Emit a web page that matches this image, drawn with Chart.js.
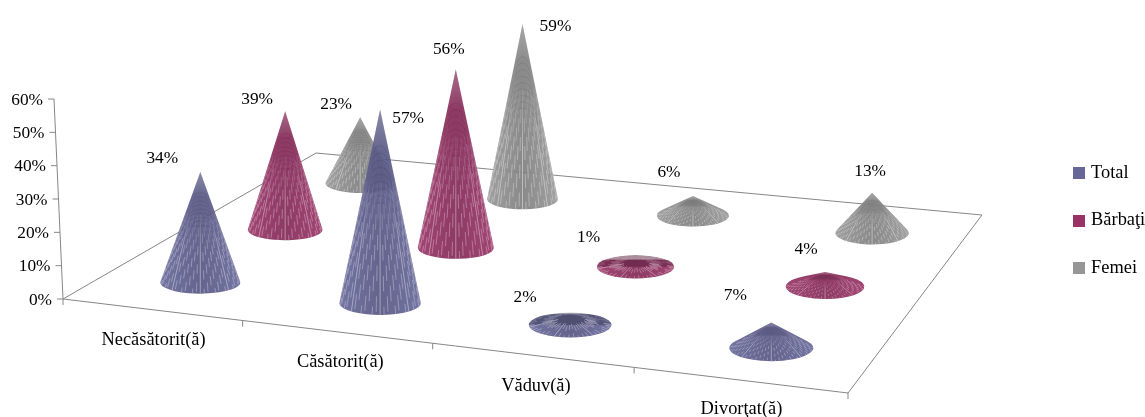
<!DOCTYPE html>
<html><head><meta charset="utf-8">
<style>html,body{margin:0;padding:0;background:#fff}canvas{display:block}</style>
<script src="https://cdn.jsdelivr.net/npm/chart.js@4/dist/chart.umd.js"></script>
</head><body><canvas id="c" width="1145" height="417"></canvas>
<script>
const categories = ['Necăsătorit(ă)', 'Căsătorit(ă)', 'Văduv(ă)', 'Divorţat(ă)'];
const seriesNames = ['Total', 'Bărbaţi', 'Femei'];
const total = [34, 57, 2, 7];
const barbati = [39, 56, 1, 4];
const femei = [23, 59, 6, 13];
const seriesColors = ['#666699', '#993366', '#969696'];
const yTicks = { min: 0, max: 60, step: 10 };

// layout of the 3-D floor (pixel corners of the plot's perspective floor)
const FL = [63, 299], FR = [848, 393], BR = [982, 215], BL = [316, 153];
const AXIS_TOP_X = 54;
const CONE_SHIFT = [2, 2];
const FONT = '17.33px "Liberation Serif"';
const CAT_FONT = '18.4px "Liberation Serif"';
// data-label offset from each cone tip, per series then category
const labelOffsets = [
  [[-38, -14], [28, 9], [-45, -19], [-36, -27]],
  [[-28, -12], [-7, -20], [-47, -24], [-19, -23]],
  [[-24, -13], [33, 2], [-24, -24], [-2, -21]]
];
const categoryLabelDrop = [[2, 31], [4, 30], [4, 31], [2, 29]];

const H = (() => {
  const [x0, y0] = FL, [x1, y1] = FR, [x2, y2] = BR, [x3, y3] = BL;
  const dx1 = x1 - x2, dx2 = x3 - x2, sx = x0 - x1 + x2 - x3;
  const dy1 = y1 - y2, dy2 = y3 - y2, sy = y0 - y1 + y2 - y3;
  const den = dx1 * dy2 - dx2 * dy1;
  const g = (sx * dy2 - dx2 * sy) / den, h = (dx1 * sy - sx * dy1) / den;
  return { a: x1 - x0 + g * x1, b: x3 - x0 + h * x3, c: x0,
           d: y1 - y0 + g * y1, e: y3 - y0 + h * y3, f: y0, g, h };
})();
function floorPoint(u, v) {
  const w = H.g * u + H.h * v + 1;
  return [(H.a * u + H.b * v + H.c) / w, (H.d * u + H.e * v + H.f) / w];
}
function rgb(hex) { return [1, 3, 5].map(i => parseInt(hex.substr(i, 2), 16)); }
function mix(c, t, k) { return c.map((v, i) => Math.round(v + (t[i] - v) * k)); }
function css(c, a) { return `rgba(${c[0]},${c[1]},${c[2]},${a})`; }

function coneGeom(chart, ds, i) {
  const xs = chart.scales.x, ys = chart.scales.y;
  const u = (xs.getPixelForValue(i) - xs.left) / xs.width;
  const v = (ds + 0.5) / chart.data.datasets.length;
  const p = floorPoint(u, v);
  const cx = p[0] + CONE_SHIFT[0], cy = p[1] + CONE_SHIFT[1];
  const value = chart.data.datasets[ds].data[i];
  const tilt = Math.min(1.01, 0.9 + 0.48 * u);
  const heightPx = (ys.getPixelForValue(0) - ys.getPixelForValue(value)) * (1.03 - 0.19 * v) * tilt + CONE_SHIFT[1];
  const rx = 40 + 2.7 * (u - 0.125) - 8 * (v - 1 / 6);
  const ry = rx * (0.27 + 0.05 * u);
  return { cx, cy, rx, ry, h: heightPx, ax: cx, ay: cy - heightPx, u, v };
}

function drawCone(ctx, g, hex) {
  const base = rgb(hex), dark = mix(base, [0, 0, 0], 0.14), lite = mix(base, [255, 255, 255], 0.02);
  const { cx, cy, rx, ry, h, ax, ay } = g;
  const pointy = h > ry + 0.5;
  ctx.save();
  ctx.beginPath();
  if (pointy) {
    const sn = ry / h, cs = Math.sqrt(1 - sn * sn);
    ctx.moveTo(ax, ay);
    ctx.lineTo(cx + rx * cs, cy - ry * sn);
    ctx.ellipse(cx, cy, rx, ry, 0, -Math.asin(sn), Math.PI + Math.asin(sn));
    ctx.closePath();
  } else {
    ctx.ellipse(cx, cy, rx, ry, 0, 0, Math.PI * 2);
  }
  ctx.clip();
  const gr = ctx.createLinearGradient(cx - rx, 0, cx + rx, 0);
  gr.addColorStop(0, css(lite, 0.93));
  gr.addColorStop(0.5, css(dark, 0.93));
  gr.addColorStop(1, css(lite, 0.93));
  ctx.fillStyle = gr;
  ctx.fillRect(cx - rx - 2, ay - 2, rx * 2 + 4, cy + ry - ay + 4);
  if (pointy) {
    const vg = ctx.createLinearGradient(0, ay, 0, ay + h * 0.22);
    vg.addColorStop(0, 'rgba(255,255,255,0.25)');
    vg.addColorStop(1, 'rgba(255,255,255,0)');
    ctx.fillStyle = vg;
    ctx.fillRect(cx - rx, ay, rx * 2, h * 0.22);
    // arched dark moiré bands below the tip
    ctx.lineWidth = 1.1;
    ctx.strokeStyle = css(mix(base, [0, 0, 0], 0.55), 0.13);
    for (let s = 0.18; s < 0.55; s += 0.045) {
      ctx.beginPath();
      ctx.ellipse(ax + (cx - ax) * s, ay + (cy - ay) * (s + 0.04), rx * s * 0.8, (cy - ay) * s * 0.18, 0, Math.PI, Math.PI * 2);
      ctx.stroke();
    }
  } else {
    // shallow disc: shaded back half
    ctx.fillStyle = css(mix(base, [0, 0, 0], 0.45), 0.5);
    ctx.beginPath();
    ctx.ellipse(cx, cy, rx, ry, 0, Math.PI, Math.PI * 2);
    ctx.fill();
  }
  // light fluted slits, tip to base; they fade out towards the tip
  const n = 32, span = pointy ? Math.PI : Math.PI * 2, count = pointy ? n : Math.round(n * 1.6);
  const light = mix(base, [255, 255, 255], 0.6);
  ctx.lineWidth = 0.8;
  for (let k = 0; k <= count; k++) {
    const th = span * k / count;
    const bx = cx + rx * Math.cos(th), by = cy + ry * Math.sin(th);
    const central = k % 8 === 0 && k > 0 && k < count;
    const back = !pointy && Math.sin(th) < 0;
    const peak = back ? 0.3 : (central ? 0.85 : 0.65);
    const start = central ? 0.3 : 0.36;
    const seg = pointy ? 0.075 : 0.25;
    const gap = central ? 0 : (pointy ? 0.075 : 0.2);
    const offset = (k % 3) * 0.05;
    for (let s = start + offset; s < 1; s += seg + gap) {
      const e = Math.min(1, s + seg);
      const fade = pointy ? Math.min(1, Math.max(0.15, (s - 0.25) / 0.4)) : 1;
      ctx.strokeStyle = css(light, peak * fade);
      ctx.beginPath();
      ctx.moveTo(ax + (bx - ax) * s, ay + (by - ay) * s);
      ctx.lineTo(ax + (bx - ax) * e, ay + (by - ay) * e);
      ctx.stroke();
    }
  }
  ctx.restore();
}

class ConeController extends Chart.BarController {
  draw() {
    const chart = this.chart, ctx = chart.ctx, ds = this.index;
    const color = chart.data.datasets[ds].backgroundColor;
    const geoms = chart.data.datasets[ds].data.map((_, i) => coneGeom(chart, ds, i));
    geoms.sort((a, b) => a.cy - b.cy).forEach(g => drawCone(ctx, g, color));
  }
}
ConeController.id = 'cone';
ConeController.defaults = Chart.BarController.defaults;
ConeController.overrides = Chart.BarController.overrides;
Chart.register(ConeController);

function legendSwatch(hex) {
  const c = document.createElement('canvas');
  c.width = 12; c.height = 12;
  const x = c.getContext('2d');
  x.fillStyle = hex; x.fillRect(0, 0, 12, 12);
  return c;
}

const floorPlugin = {
  id: 'floor3d',
  afterLayout(chart) {
    const l = chart.legend;
    const dy = 220.5 - (l.top + l.bottom) / 2;
    l.top += dy; l.bottom += dy;
    const w = l.right - l.left;
    l.left = 1046; l.right = l.left + w;
  },
  beforeDatasetsDraw(chart) {
    const ctx = chart.ctx, ys = chart.scales.y;
    ctx.save();
    ctx.strokeStyle = '#868686';
    ctx.lineWidth = 1;
    ctx.beginPath();
    ctx.moveTo(FL[0], FL[1]); ctx.lineTo(FR[0], FR[1]); ctx.lineTo(BR[0], BR[1]);
    ctx.lineTo(BL[0], BL[1]); ctx.closePath();
    ctx.stroke();
    const y0 = ys.getPixelForValue(yTicks.min), y1 = ys.getPixelForValue(yTicks.max);
    const axisX = y => FL[0] + (AXIS_TOP_X - FL[0]) * (y0 - y) / (y0 - y1);
    ctx.beginPath();
    ctx.moveTo(FL[0], y0); ctx.lineTo(AXIS_TOP_X, y1);
    ys.ticks.forEach(t => {
      const y = ys.getPixelForValue(t.value);
      ctx.moveTo(axisX(y), y); ctx.lineTo(axisX(y) - 6, y);
    });
    for (let k = 0; k <= categories.length; k++) {
      const p = floorPoint(k / categories.length, 0);
      ctx.moveTo(p[0], p[1]); ctx.lineTo(p[0], p[1] + 6);
    }
    ctx.stroke();
    ctx.fillStyle = '#000';
    ctx.font = FONT;
    ctx.textAlign = 'right'; ctx.textBaseline = 'middle';
    ys.ticks.forEach(t => {
      const y = ys.getPixelForValue(t.value);
      ctx.fillText(t.value + '%', axisX(y) - 11, y + 1);
    });
    ctx.textAlign = 'center';
    ctx.font = CAT_FONT;
    const xs = chart.scales.x;
    xs.getLabels().forEach((lab, i) => {
      const p = floorPoint((xs.getPixelForValue(i) - xs.left) / xs.width, 0);
      ctx.fillText(lab, p[0] + categoryLabelDrop[i][0], p[1] + categoryLabelDrop[i][1]);
    });
    ctx.restore();
  },
  afterDatasetsDraw(chart) {
    const ctx = chart.ctx;
    ctx.save();
    ctx.fillStyle = '#000';
    ctx.font = FONT;
    ctx.textAlign = 'center'; ctx.textBaseline = 'middle';
    chart.data.datasets.forEach((d, ds) => d.data.forEach((val, i) => {
      const g = coneGeom(chart, ds, i), o = labelOffsets[ds][i];
      ctx.fillText(val + '%', g.ax + o[0], g.ay + o[1]);
    }));
    ctx.restore();
  }
};

const seriesValues = [total, barbati, femei];
new Chart(document.getElementById('c'), {
  type: 'cone',
  data: {
    labels: categories,
    datasets: seriesNames.map((name, i) => ({
      label: name, data: seriesValues[i], backgroundColor: seriesColors[i], clip: false
    }))
  },
  options: {
    responsive: false, animation: false, devicePixelRatio: 1,
    layout: { padding: { top: FL[1] - 200, bottom: 417 - FL[1], left: 0, right: 0 } },
    scales: {
      x: { type: 'category', display: false, offset: true },
      y: { type: 'linear', display: false, min: yTicks.min, max: yTicks.max, ticks: { stepSize: yTicks.step } }
    },
    plugins: {
      tooltip: { enabled: false },
      legend: {
        position: 'right',
        labels: {
          font: { family: 'Liberation Serif', size: 18.4 },
          color: '#000',
          usePointStyle: true, pointStyleWidth: 6.5, boxHeight: 12, padding: 29.4,
          generateLabels(chart) {
            return Chart.defaults.plugins.legend.labels.generateLabels(chart).map((it, i) => {
              it.pointStyle = legendSwatch(seriesColors[i]);
              it.lineWidth = 0;
              return it;
            });
          }
        }
      }
    }
  },
  plugins: [floorPlugin]
});
</script></body></html>
